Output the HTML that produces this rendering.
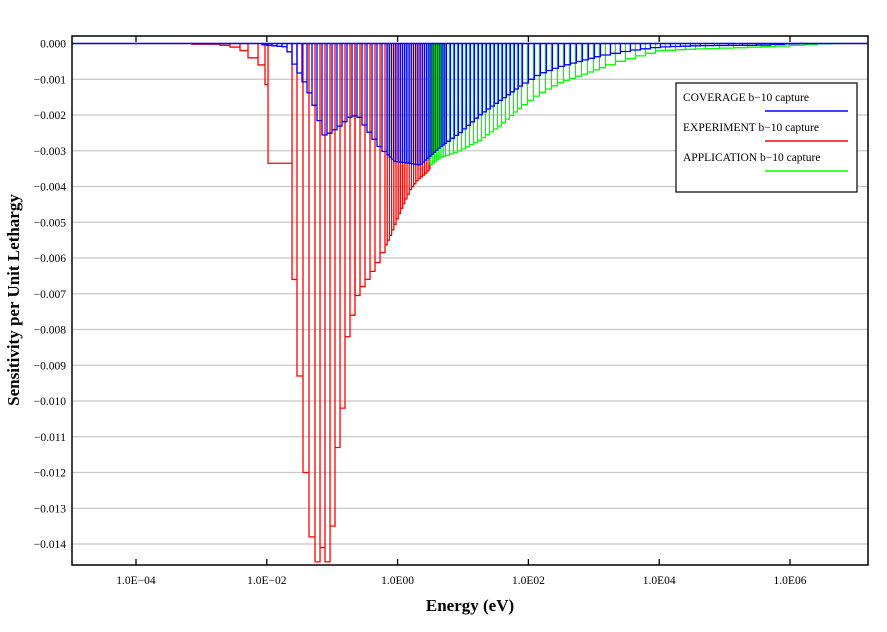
<!DOCTYPE html>
<html><head><meta charset="utf-8"><style>
body{margin:0;background:#fff;width:887px;height:627px;overflow:hidden}
svg text{font-family:"Liberation Serif","DejaVu Serif",serif}
</style></head><body>
<svg id="s" width="887" height="627" xmlns="http://www.w3.org/2000/svg">
<g id="grid"></g>
<g id="data"></g>
<rect x="72" y="36" width="796" height="529" fill="none" stroke="#000" stroke-width="1.5"/>
<g id="ticks"></g>
<text transform="translate(19,300) rotate(-90)" text-anchor="middle" font-size="17" font-weight="bold">Sensitivity per Unit Lethargy</text>
<text x="470" y="611" text-anchor="middle" font-size="17" font-weight="bold">Energy (eV)</text>
<rect x="676" y="83" width="181" height="109" fill="#fff" stroke="#000" stroke-width="1.2"/>
<text x="683" y="101" font-size="11.5">COVERAGE b−10 capture</text>
<line x1="765" y1="111" x2="848" y2="111" stroke="#00f" stroke-width="1.5"/>
<text x="683" y="131" font-size="11.5">EXPERIMENT b−10 capture</text>
<line x1="765" y1="141" x2="848" y2="141" stroke="#f00" stroke-width="1.5"/>
<text x="683" y="161" font-size="11.5">APPLICATION b−10 capture</text>
<line x1="765" y1="171" x2="848" y2="171" stroke="#0f0" stroke-width="1.5"/>
</svg>
<script>
var NS="http://www.w3.org/2000/svg";
function el(p,t,a,txt){var e=document.createElementNS(NS,t);for(var k in a)e.setAttribute(k,a[k]);if(txt!=null)e.textContent=txt;document.getElementById(p).appendChild(e);return e;}
var Y0=43.5,DY=35.75;
function yv(v){return Y0-v*DY;}
for(var i=0;i<=14;i++){var y=yv(-i);
 el("grid","line",{x1:72,x2:868,y1:y,y2:y,stroke:"#c8c8c8","stroke-width":1.3});
 el("ticks","text",{x:66,y:y+4,"text-anchor":"end","font-size":"11.5"},i==0?"0.000":"−0."+("00"+i).slice(-3));
}
var xl=["1.0E−04","1.0E−02","1.0E00","1.0E02","1.0E04","1.0E06"];
for(var i=0;i<6;i++){var x=136+i*130.8;
 el("ticks","line",{x1:x,x2:x,y1:565,y2:559,stroke:"#000","stroke-width":1.3});
 el("ticks","line",{x1:x,x2:x,y1:36,y2:42,stroke:"#000","stroke-width":1.3});
 el("ticks","text",{x:x,y:584,"text-anchor":"middle","font-size":"11.5"},xl[i]);
}
function interp(pts,x){if(x<=pts[0][0])return pts[0][1];for(var i=1;i<pts.length;i++){if(x<=pts[i][0]){var a=pts[i-1],b=pts[i];return a[1]+(b[1]-a[1])*(x-a[0])/(b[0]-a[0]);}}return pts[pts.length-1][1];}
function wid(x){if(x<260)return 9;if(x<385)return 5;if(x<445)return 2.2;if(x<520)return 4;if(x<600)return 6;if(x<700)return 10;return 14;}
function draw(col,fn,x0,x1){var d="";var x=x0;while(x<x1){var w=wid(x);var xe=Math.min(x+w,x1);var v=fn(x+w/2);var y=yv(v).toFixed(1);d+="M"+x.toFixed(1)+" "+Y0+"V"+y+"H"+xe.toFixed(1)+"V"+Y0;x=xe;}
 el("data","path",{d:d,fill:"none",stroke:col,"stroke-width":1.3});}
var red=[[192,220,-0.02],[220,230,-0.05],[230,240,-0.1],[240,248,-0.2],[248,258,-0.4],[258,265,-0.6],[265,268,-1.15],[268,292,-3.35],[292,297,-6.6],[297,303,-9.3],[303,309,-12],[309,315,-13.8],[315,320,-14.5],[320,325,-14.1],[325,330,-14.5],[330,335,-13.5],[335,340,-11.3],[340,345,-10.2],[345,350,-8.2],[350,355,-7.6]];
var rd="";red.forEach(function(b){rd+="M"+b[0]+" "+Y0+"V"+yv(b[2])+"H"+b[1]+"V"+Y0;});
el("data","path",{d:rd,fill:"none",stroke:"#f00","stroke-width":1.3});
var redP=[[355,-7.2],[360,-6.9],[370,-6.5],[380,-6.0],[390,-5.4],[400,-4.7],[410,-4.1],[418,-3.8],[425,-3.65],[430,-3.5]];
draw("#f00",function(x){return interp(redP,x);},355,430);
var grP=[[300,-1],[430,-3.4],[440,-3.2],[460,-3.0],[480,-2.7],[500,-2.3],[520,-1.8],[540,-1.4],[560,-1.1],[580,-0.9],[600,-0.7],[620,-0.5],[640,-0.35],[660,-0.2],[700,-0.15],[760,-0.1],[800,-0.05],[830,0]];
draw("#0f0",function(x){return interp(grP,x);},430,840);
var blP=[[262,-0.03],[288,-0.1],[292,-0.45],[300,-0.85],[305,-1.1],[313,-1.6],[320,-2.2],[325,-2.6],[330,-2.5],[340,-2.3],[350,-2.05],[358,-2.0],[365,-2.3],[380,-2.9],[395,-3.3],[410,-3.35],[420,-3.4],[430,-3.15],[440,-2.9],[460,-2.5],[480,-2.0],[500,-1.6],[520,-1.2],[540,-0.85],[560,-0.65],[580,-0.5],[600,-0.35],[630,-0.2],[660,-0.1],[700,-0.06],[760,-0.05],[800,0]];
draw("#00f",function(x){return interp(blP,x);},262,810);
el("data","line",{x1:72,x2:868,y1:Y0,y2:Y0,stroke:"#00f","stroke-width":1.5});
</script>
</body></html>
